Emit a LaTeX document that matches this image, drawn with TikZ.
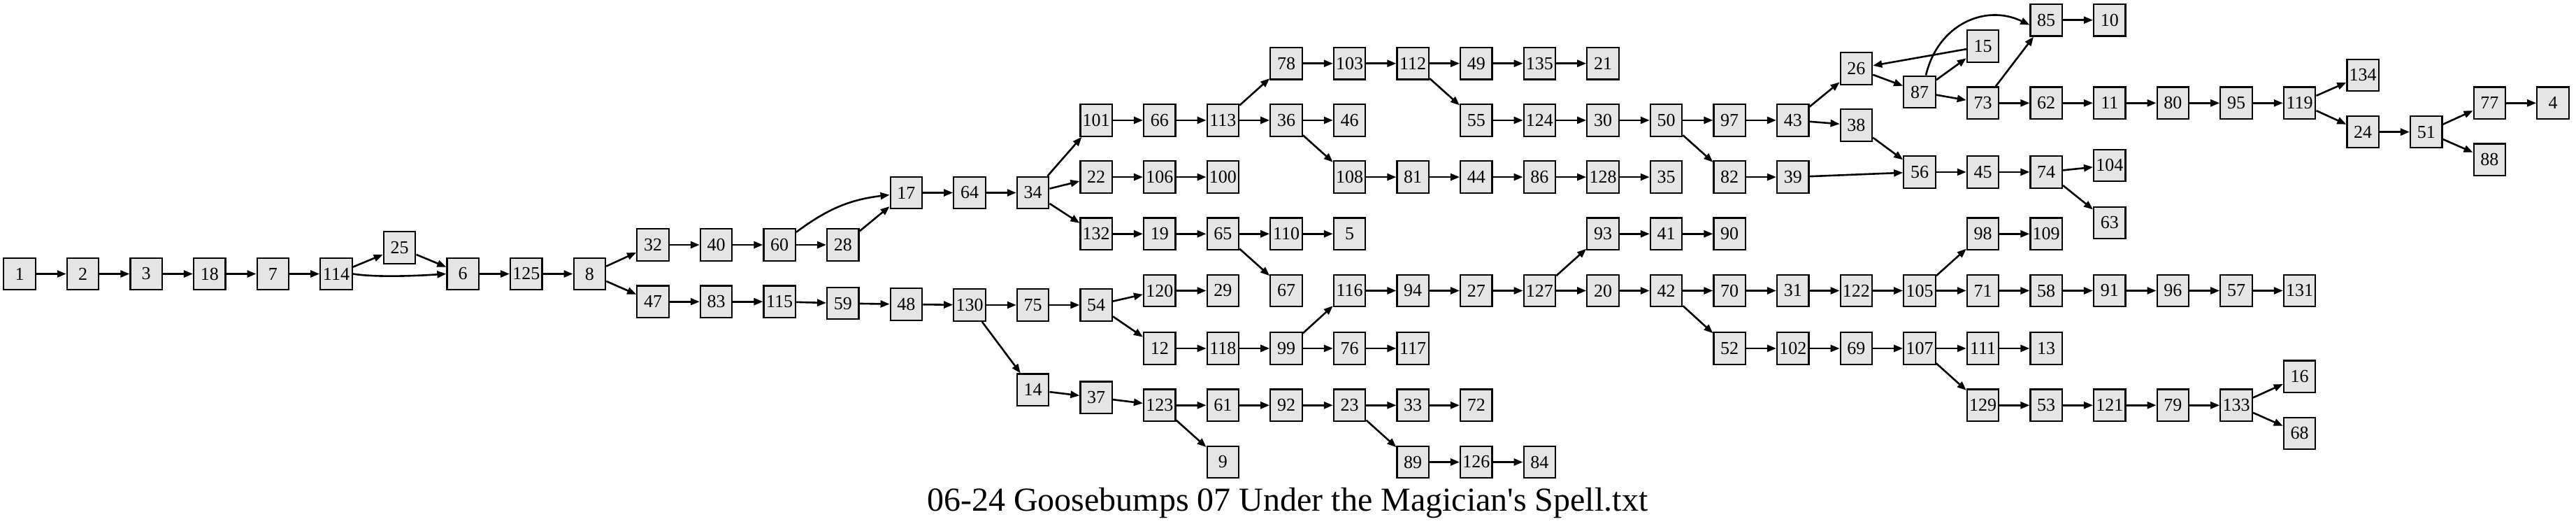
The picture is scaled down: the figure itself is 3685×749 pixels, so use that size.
\documentclass[tikz,border=0pt]{standalone}
\usepackage{fontspec}
\setmainfont{Liberation Serif}
\newfontfamily\ttlfont{Liberation Serif}
\usetikzlibrary{arrows.meta}
\newcommand{\gn}[3]{\node[nb] (n#1) at ({28+90.6*#2},#3) {#1};}
\begin{document}
\begin{tikzpicture}[x=1pt,y=-1pt,
  nb/.style={draw=black,line width=2.2pt,fill=black!10,minimum width=45.5pt,minimum height=45.5pt,inner sep=0pt,font=\fontsize{26}{26}\selectfont},
  e/.style={line width=2.6pt,-{Triangle[length=13pt,width=10pt]}}]
\useasboundingbox (0,0) rectangle (3685,749);
\gn{1}{0}{391.5}
\gn{2}{1}{391.5}
\gn{3}{2}{391.5}
\gn{18}{3}{391.5}
\gn{7}{4}{391.5}
\gn{114}{5}{391.5}
\gn{25}{6}{354}
\gn{6}{7}{391.5}
\gn{125}{8}{391.5}
\gn{8}{9}{391.5}
\gn{32}{10}{350}
\gn{47}{10}{431.2}
\gn{40}{11}{350}
\gn{83}{11}{431.2}
\gn{60}{12}{350}
\gn{115}{12}{431.2}
\gn{28}{13}{350}
\gn{59}{13}{433.6}
\gn{17}{14}{275.5}
\gn{48}{14}{435}
\gn{64}{15}{275.5}
\gn{130}{15}{436}
\gn{34}{16}{275.5}
\gn{75}{16}{436}
\gn{14}{16}{557.3}
\gn{101}{17}{171.9}
\gn{22}{17}{253.1}
\gn{132}{17}{334.3}
\gn{54}{17}{436}
\gn{37}{17}{568.3}
\gn{66}{18}{171.9}
\gn{106}{18}{253.1}
\gn{19}{18}{334.3}
\gn{120}{18}{415.5}
\gn{12}{18}{498}
\gn{123}{18}{579.3}
\gn{113}{19}{171.9}
\gn{100}{19}{253.1}
\gn{65}{19}{334.3}
\gn{29}{19}{415.5}
\gn{118}{19}{498}
\gn{61}{19}{579.3}
\gn{9}{19}{660.5}
\gn{78}{20}{90.7}
\gn{36}{20}{171.9}
\gn{110}{20}{334.3}
\gn{67}{20}{415.5}
\gn{99}{20}{498}
\gn{92}{20}{579.3}
\gn{103}{21}{90.7}
\gn{46}{21}{171.9}
\gn{108}{21}{253.1}
\gn{5}{21}{334.3}
\gn{116}{21}{415.5}
\gn{76}{21}{498}
\gn{23}{21}{579.3}
\gn{112}{22}{90.7}
\gn{81}{22}{253.1}
\gn{94}{22}{415.5}
\gn{117}{22}{498}
\gn{33}{22}{579.3}
\gn{89}{22}{660.5}
\gn{49}{23}{90.7}
\gn{55}{23}{171.9}
\gn{44}{23}{253.1}
\gn{27}{23}{415.5}
\gn{72}{23}{579.3}
\gn{126}{23}{660.5}
\gn{135}{24}{90.7}
\gn{124}{24}{171.9}
\gn{86}{24}{253.1}
\gn{127}{24}{415.5}
\gn{84}{24}{660.5}
\gn{21}{25}{90.7}
\gn{30}{25}{171.9}
\gn{128}{25}{253.1}
\gn{93}{25}{334.3}
\gn{20}{25}{415.5}
\gn{50}{26}{171.9}
\gn{35}{26}{253.1}
\gn{41}{26}{334.3}
\gn{42}{26}{415.5}
\gn{97}{27}{171.9}
\gn{82}{27}{253.1}
\gn{90}{27}{334.3}
\gn{70}{27}{415.5}
\gn{52}{27}{498}
\gn{43}{28}{171.9}
\gn{39}{28}{253.1}
\gn{31}{28}{415.5}
\gn{102}{28}{498}
\gn{26}{29}{98}
\gn{38}{29}{179.1}
\gn{122}{29}{415.5}
\gn{69}{29}{498}
\gn{87}{30}{131.5}
\gn{56}{30}{245.9}
\gn{105}{30}{415.5}
\gn{107}{30}{498}
\gn{15}{31}{66}
\gn{73}{31}{147.3}
\gn{45}{31}{245.9}
\gn{98}{31}{334.3}
\gn{71}{31}{415.5}
\gn{111}{31}{498}
\gn{129}{31}{579.3}
\gn{85}{32}{28.7}
\gn{62}{32}{147.3}
\gn{74}{32}{245.9}
\gn{109}{32}{334.3}
\gn{58}{32}{415.5}
\gn{13}{32}{498}
\gn{53}{32}{579.3}
\gn{10}{33}{28.7}
\gn{11}{33}{147.3}
\gn{104}{33}{236.4}
\gn{63}{33}{318.5}
\gn{91}{33}{415.5}
\gn{121}{33}{579.3}
\gn{80}{34}{147.3}
\gn{96}{34}{415.5}
\gn{79}{34}{579.3}
\gn{95}{35}{147.3}
\gn{57}{35}{415.5}
\gn{133}{35}{579.3}
\gn{119}{36}{147.3}
\gn{131}{36}{415.5}
\gn{16}{36}{538.2}
\gn{68}{36}{619.4}
\gn{134}{37}{107.4}
\gn{24}{37}{188.6}
\gn{51}{38}{188.6}
\gn{77}{39}{147.3}
\gn{88}{39}{228.3}
\gn{4}{40}{147.3}
\foreach \a/\b in {1/2,2/3,3/18,18/7,7/114,114/25,25/6,6/125,125/8,8/32,8/47,32/40,40/60,60/28,28/17,17/64,64/34,
  34/101,34/22,34/132,101/66,66/113,113/78,113/36,78/103,103/112,112/49,112/55,49/135,135/21,55/124,124/30,30/50,
  50/97,50/82,97/43,43/26,43/38,26/87,87/15,87/73,15/26,73/85,73/62,85/10,62/11,11/80,80/95,95/119,119/134,119/24,
  24/51,51/77,51/88,77/4,38/56,82/39,39/56,56/45,45/74,74/104,74/63,36/46,36/108,108/81,81/44,44/86,86/128,128/35,
  22/106,106/100,132/19,19/65,65/110,65/67,110/5,47/83,83/115,115/59,59/48,48/130,130/75,130/14,75/54,54/120,54/12,
  120/29,12/118,118/99,99/116,99/76,116/94,94/27,27/127,127/93,127/20,93/41,41/90,20/42,42/70,42/52,70/31,31/122,
  122/105,105/98,105/71,98/109,71/58,58/91,91/96,96/57,57/131,52/102,102/69,69/107,107/111,107/129,111/13,129/53,
  53/121,121/79,79/133,133/16,133/68,76/117,14/37,37/123,123/61,123/9,61/92,92/23,23/33,23/89,33/72,89/126,126/84}
  {\draw[e] (n\a) -- (n\b);}
\draw[e] (n114.east) .. controls (540,397) and (600,394) .. (n6.west);
\draw[e] (n60) to[bend left=15] (n17);
\draw[e] (n87.north) ++(9,0) coordinate (c87) .. controls (2772,35) and (2840,5) .. ([yshift=-7pt]n85.west);
\node[font=\ttlfont\fontsize{48}{48}\selectfont,anchor=base] (title) at (1841.7,730) {06-24 Goosebumps 07 Under the Magician's Spell.txt};
\end{tikzpicture}
\end{document}
